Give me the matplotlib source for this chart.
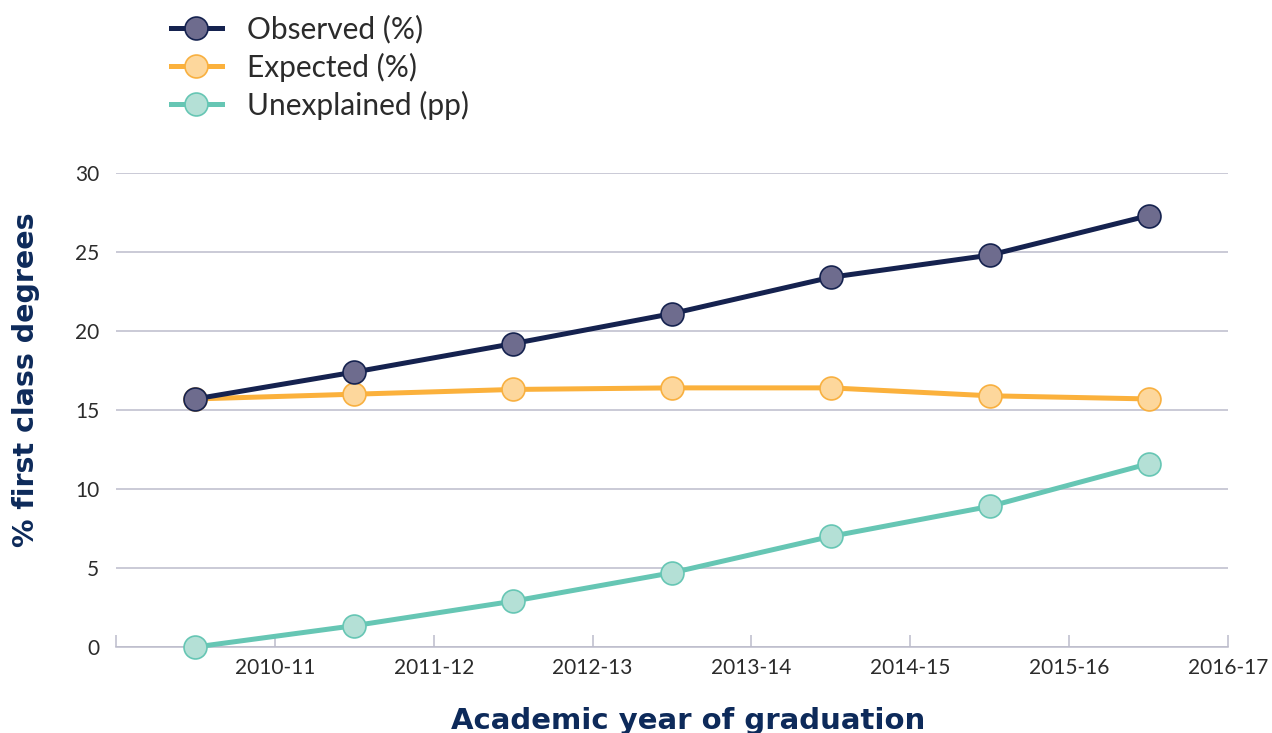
import matplotlib.pyplot as plt

plt.rcParams['font.family'] = ['Lato', 'DejaVu Sans']

years = ['2010-11', '2011-12', '2012-13', '2013-14', '2014-15', '2015-16', '2016-17']
observed = [15.7, 17.4, 19.2, 21.1, 23.4, 24.8, 27.3]
expected = [15.7, 16.0, 16.3, 16.4, 16.4, 15.9, 15.7]
unexplained = [0.0, 1.35, 2.9, 4.7, 7.0, 8.9, 11.6]

navy = '#15224f'
grid_col = '#bcbccb'
text_col = '#2b2b2b'
label_col = '#0d2a5a'

fig = plt.figure(figsize=(12.72, 7.33), dpi=100)
ax = fig.add_axes([116 / 1272, 1 - 647 / 733, 1112 / 1272, 474 / 733])

xs = [i + 0.5 for i in range(len(years))]
series = [
    (observed, 'Observed (%)', navy, '#6e6c8e', navy, 5),
    (expected, 'Expected (%)', '#fbb13c', '#fdd79c', '#f8b040', 4),
    (unexplained, 'Unexplained (pp)', '#66c6b4', '#b4e0d6', '#66c6b4', 3),
]
for vals, name, lc, fc, ec, z in series:
    ax.plot(xs, vals, color=lc, lw=3.6, marker='o', markersize=16.5,
            markerfacecolor=fc, markeredgecolor=ec, markeredgewidth=1.2,
            label=name, clip_on=False, zorder=z)

ax.set_xlim(0, 7)
ax.set_ylim(0, 30)
ax.set_yticks(range(0, 31, 5))
ax.set_xticks(range(0, 8))
ax.set_xticklabels([''] + years)
ax.grid(axis='y', color=grid_col, lw=1.1)
ax.set_axisbelow(True)
for s in ['top', 'right', 'left']:
    ax.spines[s].set_visible(False)
ax.spines['bottom'].set_color(grid_col)
ax.spines['bottom'].set_linewidth(1.1)
ax.tick_params(axis='y', length=0, pad=12, labelsize=15, labelcolor=text_col)
ax.tick_params(axis='x', direction='in', length=9, width=1.1, color=grid_col,
               pad=8, labelsize=15, labelcolor=text_col)

fig.text(26 / 1272, 1 - 380 / 733, '% first class degrees', rotation=90,
         ha='center', va='center', fontsize=20.5, fontweight='bold', color=label_col,
         family='DejaVu Sans')
fig.text(688 / 1272, 1 - 721 / 733, 'Academic year of graduation',
         ha='center', va='center', fontsize=21, fontweight='bold', color=label_col,
         family='DejaVu Sans')

fig.legend(loc='upper left', bbox_to_anchor=(156 / 1272, 1 - 0 / 733), frameon=False,
           fontsize=21.5, handlelength=1.7, handletextpad=0.85, labelspacing=0.3,
           borderpad=0, labelcolor=text_col)

fig.savefig('out.png', dpi=100)
